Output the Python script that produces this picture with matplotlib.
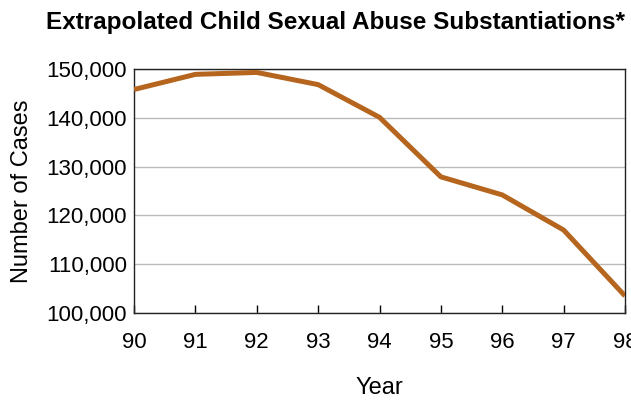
import matplotlib
matplotlib.use("Agg")
import matplotlib.pyplot as plt
from matplotlib.ticker import FuncFormatter

plt.rcParams['font.family'] = ['Liberation Sans', 'DejaVu Sans']

# data
years = [90, 91, 92, 93, 94, 95, 96, 97, 98]
cases = [145800, 148900, 149300, 146800, 140100, 127900, 124200, 117000, 103500]
year_labels = ['90', '91', '92', '93', '94', '95', '96', '97', '98']
y_ticks = [100000, 110000, 120000, 130000, 140000, 150000]

fig = plt.figure(figsize=(6.31, 4.01), dpi=100)
ax = fig.add_axes([134 / 631, 1 - 313 / 401, (625 - 134) / 631, (313 - 69) / 401])

ax.plot(years, cases, color='#B5651D', linewidth=3.6, solid_capstyle='butt', zorder=3)

ax.set_xlim(90, 98)
ax.set_ylim(100000, 150000)
ax.set_xticks(years)
ax.set_xticklabels(year_labels)
ax.set_yticks(y_ticks)
ax.yaxis.set_major_formatter(FuncFormatter(lambda v, p: '{:,.0f}'.format(v)))

ax.grid(axis='y', color='#BBBBBB', linewidth=1)
ax.set_axisbelow(True)
for s in ax.spines.values():
    s.set_color('#222222')
    s.set_linewidth(1)

ax.tick_params(axis='x', direction='in', length=6, width=1, pad=14, labelsize=16)
ax.tick_params(axis='y', length=0, pad=5, labelsize=16)

ax.set_xlabel('Year', fontsize=17, labelpad=17)
ax.set_ylabel('Number of Cases', fontsize=17, labelpad=10)

fig.text(336 / 631, 1 - 22 / 401, 'Extrapolated Child Sexual Abuse Substantiations*',
         ha='center', va='center', fontsize=17.5, fontweight='bold')

fig.savefig('out.png', dpi=100)
